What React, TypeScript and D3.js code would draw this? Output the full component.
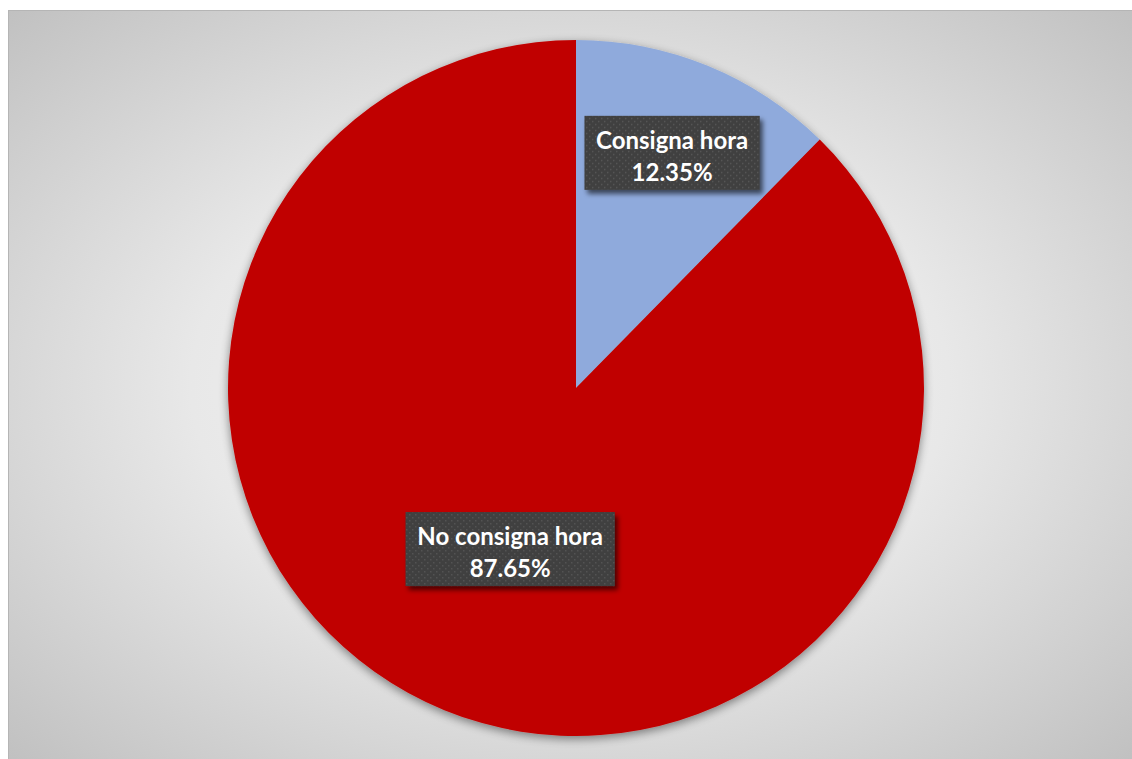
import React from "react";
import * as d3 from "d3";

const categories = ["Consigna hora", "No consigna hora"];
const values = [12.35, 87.65];
const colors = ["#8faadc", "#c00000"];
const labelRadiusFactor = [0.73, 0.5];

const W = 1124;
const H = 749;
const cx = 568;
const cy = 378;
const R = 348;

export default function App() {
  const pie = d3.pie<number>().sort(null).value((d) => d)(values);
  const arc = d3.arc<d3.PieArcDatum<number>>().innerRadius(0).outerRadius(R);
  const fmt = (v: number) => v.toFixed(2) + "%";
  return (
    <div style={{ position: "absolute", left: 8, top: 10 }}>
      <svg width={W} height={H} style={{ display: "block" }}>
        <defs>
          <radialGradient id="bg" cx="50%" cy="50%" r="75%">
            <stop offset="0%" stopColor="#f7f7f7" />
            <stop offset="45%" stopColor="#e8e8e8" />
            <stop offset="100%" stopColor="#bcbcbc" />
          </radialGradient>
          <filter id="pieShadow" x="-20%" y="-20%" width="140%" height="140%">
            <feGaussianBlur in="SourceAlpha" stdDeviation="5" />
            <feOffset dx="0" dy="3" result="b" />
            <feComponentTransfer>
              <feFuncA type="linear" slope="0.45" />
            </feComponentTransfer>
            <feMerge>
              <feMergeNode />
              <feMergeNode in="SourceGraphic" />
            </feMerge>
          </filter>
          <filter id="boxShadow" x="-20%" y="-30%" width="150%" height="170%">
            <feGaussianBlur in="SourceAlpha" stdDeviation="2.5" />
            <feOffset dx="3" dy="4" />
            <feComponentTransfer>
              <feFuncA type="linear" slope="0.6" />
            </feComponentTransfer>
            <feMerge>
              <feMergeNode />
              <feMergeNode in="SourceGraphic" />
            </feMerge>
          </filter>
          <pattern id="dots" width="6" height="6" patternUnits="userSpaceOnUse">
            <rect width="6" height="6" fill="#404040" />
            <rect x="1" y="1" width="1.3" height="1.3" fill="#595959" />
            <rect x="4" y="4" width="1.3" height="1.3" fill="#595959" />
          </pattern>
        </defs>
        <rect x={0} y={0} width={W} height={H} fill="url(#bg)" />
        <rect x={0.5} y={0.5} width={W} height={H} fill="none" stroke="#b5b5b5" />
        <g transform={`translate(${cx},${cy})`} filter="url(#pieShadow)">
          {pie.map((p, i) => (
            <path key={categories[i]} d={arc(p) || ""} fill={colors[i]} />
          ))}
        </g>
        <g transform={`translate(${cx},${cy})`}>
          {pie.map((p, i) => {
            const a = (p.startAngle + p.endAngle) / 2;
            const r = R * labelRadiusFactor[i];
            const x = Math.sin(a) * r;
            const y = -Math.cos(a) * r;
            const line1 = categories[i];
            const w = line1.length * 11.33 + 28;
            const h = 74;
            return (
              <g key={categories[i]} transform={`translate(${x},${y})`}>
                <rect x={-w / 2} y={-h / 2} width={w} height={h} fill="url(#dots)" filter="url(#boxShadow)" />
                <text
                  textAnchor="middle"
                  fill="#ffffff"
                  fontFamily="Lato, 'Open Sans', sans-serif"
                  fontWeight="bold"
                  fontSize={24}
                >
                  <tspan x={0} y={-4}>{line1}</tspan>
                  <tspan x={0} y={28}>{fmt(values[i])}</tspan>
                </text>
              </g>
            );
          })}
        </g>
      </svg>
    </div>
  );
}
